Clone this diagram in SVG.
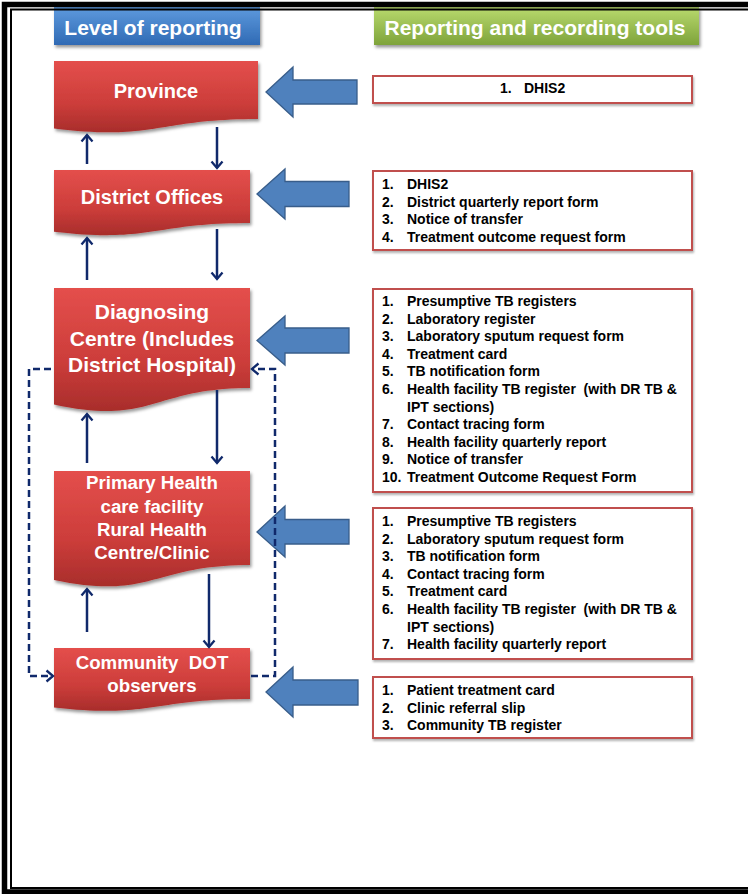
<svg xmlns="http://www.w3.org/2000/svg" width="748" height="894" viewBox="0 0 748 894">
<style>
.nt{font-family:"Liberation Sans",Arial,sans-serif;font-weight:bold;fill:#ffffff;text-anchor:middle}
.hd{font-family:"Liberation Sans",Arial,sans-serif;font-weight:bold;font-size:21px;fill:#ffffff;text-anchor:middle}
.lt{font-family:"Liberation Sans",Arial,sans-serif;font-weight:bold;font-size:14px;fill:#000000}
.tb{fill:#ffffff;stroke:#c0504d;stroke-width:2}
.ba{fill:#4f81bd;stroke:#385d8a;stroke-width:1.3}
.nd{fill:url(#red);filter:url(#sh)}
.cn{stroke:#10296b;stroke-width:2.5;fill:none}
.ds{stroke-dasharray:7 4}
</style>
<defs>
<linearGradient id="red" x1="0" y1="0" x2="0" y2="1">
<stop offset="0" stop-color="#e44f4c"/>
<stop offset="0.6" stop-color="#cc3d3a"/>
<stop offset="1" stop-color="#a82d2b"/>
</linearGradient>
<linearGradient id="blue" x1="0" y1="0" x2="0" y2="1">
<stop offset="0" stop-color="#5e9ade"/>
<stop offset="1" stop-color="#2f6ab4"/>
</linearGradient>
<linearGradient id="green" x1="0" y1="0" x2="0" y2="1">
<stop offset="0" stop-color="#b9da6e"/>
<stop offset="1" stop-color="#7ea33a"/>
</linearGradient>
<filter id="sh" x="-10%" y="-10%" width="125%" height="130%">
<feDropShadow dx="1.5" dy="2.5" stdDeviation="1.8" flood-color="#000" flood-opacity="0.4"/>
</filter>
<filter id="sh2" x="-10%" y="-20%" width="125%" height="150%">
<feDropShadow dx="1" dy="2" stdDeviation="1.2" flood-color="#000" flood-opacity="0.3"/>
</filter>
<marker id="ah" viewBox="-9 -7 11 14" refX="0" refY="0" markerWidth="11" markerHeight="14" markerUnits="userSpaceOnUse" orient="auto">
<path d="M-6.5,-5.5 L0,0 L-6.5,5.5" fill="none" stroke="#10296b" stroke-width="2.3"/>
</marker>
</defs>
<rect x="0" y="0" width="748" height="894" fill="#ffffff"/>

<g id="header-level">
<rect x="54" y="7" width="206" height="38" fill="url(#blue)" filter="url(#sh)"/>
<text class="hd" x="153" y="35">Level of reporting</text>
</g>
<g id="header-tools">
<rect x="374" y="7" width="325" height="38" fill="url(#green)" filter="url(#sh)"/>
<text class="hd" x="535" y="35">Reporting and recording tools</text>
</g>

<g id="border" fill="none" stroke="#000">
<rect x="4.5" y="4.5" width="800" height="887.5" stroke-width="5.5"/>
<rect x="11" y="9.5" width="800" height="878.5" stroke-width="2"/>
</g>

<g id="province">
<path class="nd" d="M54,61 H258 V119 C156,119 156,141 54,128.5 Z"/>
<text class="nt" x="156" y="98" font-size="20">Province</text>
</g>
<g id="district">
<path class="nd" d="M54,170 H250 V223 C152,223 152,243 54,231.7 Z"/>
<text class="nt" x="152" y="204" font-size="20">District Offices</text>
</g>
<g id="diagnosing">
<path class="nd" d="M54,288 H250 V388 C152,388 152,426 54,404.5 Z"/>
<text class="nt" x="152" font-size="21"><tspan x="152" y="319">Diagnosing</tspan><tspan x="152" y="345.5">Centre (Includes</tspan><tspan x="152" y="372">District Hospital)</tspan></text>
</g>
<g id="primary">
<path class="nd" d="M54,471 H250 V565 C152,565 152,600.5 54,580 Z"/>
<text class="nt" font-size="18.7"><tspan x="152" y="489">Primary Health</tspan><tspan x="152" y="513">care facility</tspan><tspan x="152" y="536">Rural Health</tspan><tspan x="152" y="559">Centre/Clinic</tspan></text>
</g>
<g id="community">
<path class="nd" d="M54,648 H250 V699 C152,699 152,718.4 54,707.4 Z"/>
<text class="nt" font-size="18.7"><tspan x="152" y="669">Community&#160; DOT</tspan><tspan x="152" y="692">observers</tspan></text>
</g>

<g id="tools-province">
<polygon class="ba" points="266,92 293,67 293,80 357,80 357,104 293,104 293,117"/>
<rect class="tb" x="373" y="76" width="319" height="27" filter="url(#sh2)"/>
<text class="lt"><tspan x="500" y="93">1.</tspan><tspan x="524" y="93">DHIS2</tspan></text>
</g>
<g id="tools-district">
<polygon class="ba" points="257,194 285,169 285,181.5 349,181.5 349,206.5 285,206.5 285,219"/>
<rect class="tb" x="373" y="171" width="319" height="79" filter="url(#sh2)"/>
<text class="lt">
<tspan x="382" y="189">1.</tspan><tspan x="407" y="189">DHIS2</tspan>
<tspan x="382" y="206.5">2.</tspan><tspan x="407" y="206.5">District quarterly report form</tspan>
<tspan x="382" y="224">3.</tspan><tspan x="407" y="224">Notice of transfer</tspan>
<tspan x="382" y="241.5">4.</tspan><tspan x="407" y="241.5">Treatment outcome request form</tspan>
</text>
</g>
<g id="tools-diagnosing">
<polygon class="ba" points="257,340.5 285,316 285,328 349,328 349,353 285,353 285,365"/>
<rect class="tb" x="373" y="289" width="319" height="203" filter="url(#sh2)"/>
<text class="lt">
<tspan x="382" y="306">1.</tspan><tspan x="407" y="306">Presumptive TB registers</tspan>
<tspan x="382" y="323.6">2.</tspan><tspan x="407" y="323.6">Laboratory register</tspan>
<tspan x="382" y="341.2">3.</tspan><tspan x="407" y="341.2">Laboratory sputum request form</tspan>
<tspan x="382" y="358.8">4.</tspan><tspan x="407" y="358.8">Treatment card</tspan>
<tspan x="382" y="376.4">5.</tspan><tspan x="407" y="376.4">TB notification form</tspan>
<tspan x="382" y="394">6.</tspan><tspan x="407" y="394">Health facility TB register&#160; (with DR TB &amp;</tspan>
<tspan x="407" y="411.6">IPT sections)</tspan>
<tspan x="382" y="429.2">7.</tspan><tspan x="407" y="429.2">Contact tracing form</tspan>
<tspan x="382" y="446.8">8.</tspan><tspan x="407" y="446.8">Health facility quarterly report</tspan>
<tspan x="382" y="464.4">9.</tspan><tspan x="407" y="464.4">Notice of transfer</tspan>
<tspan x="382" y="482">10.</tspan><tspan x="407" y="482">Treatment Outcome Request Form</tspan>
</text>
</g>
<g id="tools-primary">
<polygon class="ba" points="257,532 285,506 285,519.5 349,519.5 349,544 285,544 285,557"/>
<rect class="tb" x="373" y="508" width="319" height="151" filter="url(#sh2)"/>
<text class="lt">
<tspan x="382" y="526">1.</tspan><tspan x="407" y="526">Presumptive TB registers</tspan>
<tspan x="382" y="543.6">2.</tspan><tspan x="407" y="543.6">Laboratory sputum request form</tspan>
<tspan x="382" y="561.2">3.</tspan><tspan x="407" y="561.2">TB notification form</tspan>
<tspan x="382" y="578.8">4.</tspan><tspan x="407" y="578.8">Contact tracing form</tspan>
<tspan x="382" y="596.4">5.</tspan><tspan x="407" y="596.4">Treatment card</tspan>
<tspan x="382" y="614">6.</tspan><tspan x="407" y="614">Health facility TB register&#160; (with DR TB &amp;</tspan>
<tspan x="407" y="631.6">IPT sections)</tspan>
<tspan x="382" y="649.2">7.</tspan><tspan x="407" y="649.2">Health facility quarterly report</tspan>
</text>
</g>
<g id="tools-community">
<polygon class="ba" points="266,692 293,667 293,680 358,680 358,705 293,705 293,717"/>
<rect class="tb" x="373" y="677" width="319" height="61" filter="url(#sh2)"/>
<text class="lt">
<tspan x="382" y="695">1.</tspan><tspan x="407" y="695">Patient treatment card</tspan>
<tspan x="382" y="712.5">2.</tspan><tspan x="407" y="712.5">Clinic referral slip</tspan>
<tspan x="382" y="730">3.</tspan><tspan x="407" y="730">Community TB register</tspan>
</text>
</g>

<g id="connectors">
<line class="cn" x1="217" y1="127" x2="217" y2="168" marker-end="url(#ah)"/>
<line class="cn" x1="87" y1="164" x2="87" y2="135" marker-end="url(#ah)"/>
<line class="cn" x1="217" y1="229" x2="217" y2="279" marker-end="url(#ah)"/>
<line class="cn" x1="87" y1="280" x2="87" y2="238" marker-end="url(#ah)"/>
<line class="cn" x1="217" y1="390" x2="217" y2="463" marker-end="url(#ah)"/>
<line class="cn" x1="87" y1="463" x2="87" y2="414" marker-end="url(#ah)"/>
<line class="cn" x1="209" y1="574" x2="209" y2="647" marker-end="url(#ah)"/>
<line class="cn" x1="87" y1="632" x2="87" y2="589" marker-end="url(#ah)"/>
<path class="cn ds" d="M51,369 H29 V676 H53" marker-end="url(#ah)"/>
<path class="cn ds" d="M251,676 H275 V369 H252" marker-end="url(#ah)"/>
</g>
</svg>
